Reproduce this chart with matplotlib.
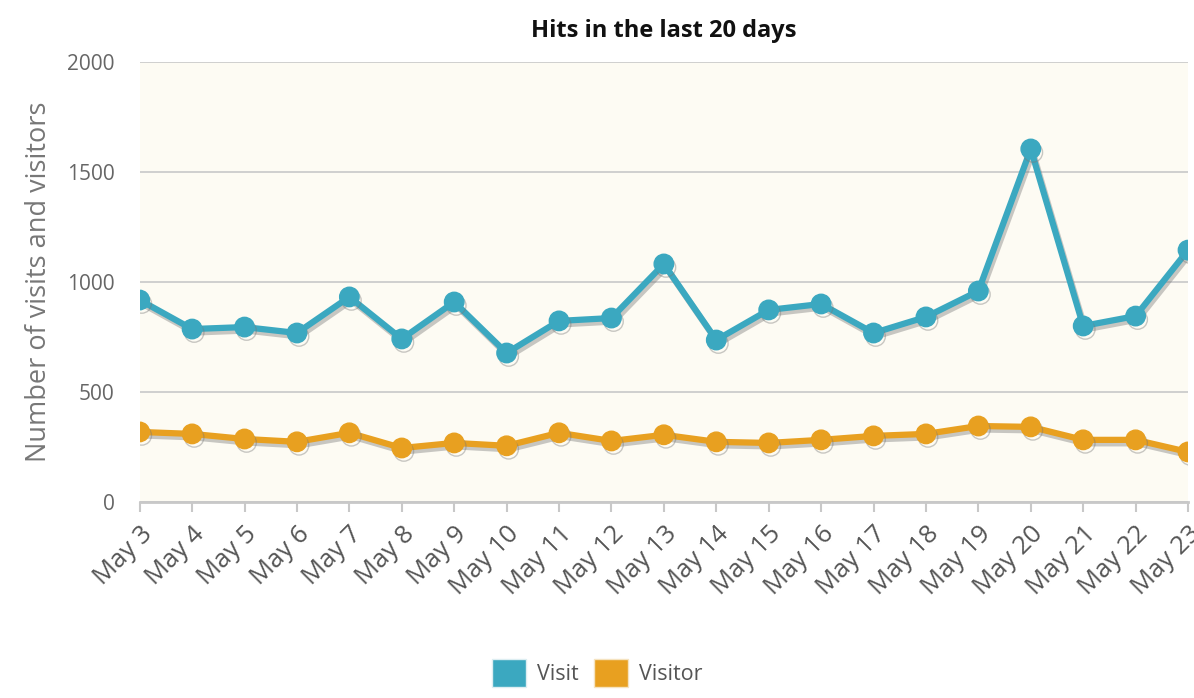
import matplotlib
matplotlib.use("Agg")
import matplotlib.pyplot as plt
import matplotlib.patheffects as pe
from matplotlib.patches import Patch

plt.rcParams['font.family'] = ['Open Sans', 'DejaVu Sans']

days = ["May 3", "May 4", "May 5", "May 6", "May 7", "May 8", "May 9", "May 10",
        "May 11", "May 12", "May 13", "May 14", "May 15", "May 16", "May 17",
        "May 18", "May 19", "May 20", "May 21", "May 22", "May 23"]
visit = [918, 786, 795, 768, 932, 741, 909, 677, 823, 836, 1082, 736, 873,
         900, 768, 841, 959, 1605, 800, 845, 1145]
visitor = [318, 309, 286, 273, 314, 245, 268, 255, 314, 277, 305, 273, 268,
           282, 300, 309, 345, 341, 282, 282, 227]

visit_color = "#3BA8C0"
visitor_color = "#E8A020"

fig = plt.figure(figsize=(11.94, 6.98), dpi=100)
ax = fig.add_axes([0.117, 0.281, 0.878, 0.63])
ax.set_facecolor("#FDFBF3")

x = list(range(len(days)))
shadow = [pe.SimpleLineShadow(offset=(1.5, -2.5), shadow_color="#777777", alpha=0.4), pe.Normal()]

ax.plot(x, visit, color=visit_color, linewidth=4.5, marker="o", markersize=14,
        path_effects=shadow, zorder=3)
ax.plot(x, visitor, color=visitor_color, linewidth=4.5, marker="o", markersize=14,
        path_effects=shadow, zorder=3)

ax.set_xlim(0, len(days) - 1)
ax.set_ylim(0, 2000)
ax.set_yticks([0, 500, 1000, 1500, 2000])
ax.grid(axis="y", color="#C8C8C8", linewidth=1.2)
ax.set_axisbelow(True)
for s in ["top", "right", "left"]:
    ax.spines[s].set_visible(False)
ax.spines["bottom"].set_color("#C8C8C8")
ax.spines["bottom"].set_linewidth(2)

ax.set_xticks(x)
ax.set_xticklabels(days, rotation=45, ha="right", rotation_mode="anchor",
                   fontsize=18.5, color="#555555")
ax.tick_params(axis="x", length=7, width=1.5, color="#C8C8C8", pad=7)
ax.tick_params(axis="y", length=0, labelsize=15, labelcolor="#666666", pad=18)

ax.set_ylabel("Number of visits and visitors", fontsize=19.5, color="#777777", labelpad=10)
ax.set_title("Hits in the last 20 days", fontsize=17, fontweight="bold", color="#111111", pad=18)

handles = [Patch(facecolor=visit_color, edgecolor="#DDEEF2", label="Visit"),
           Patch(facecolor=visitor_color, edgecolor="#F5E3C0", label="Visitor")]
fig.legend(handles=handles, loc="lower center", bbox_to_anchor=(0.5, -0.012),
           ncol=2, frameon=False, fontsize=15.5, labelcolor="#555555",
           handlelength=1.6, handleheight=1.6, columnspacing=0.7, handletextpad=0.5)

fig.savefig("out.png", dpi=100)
